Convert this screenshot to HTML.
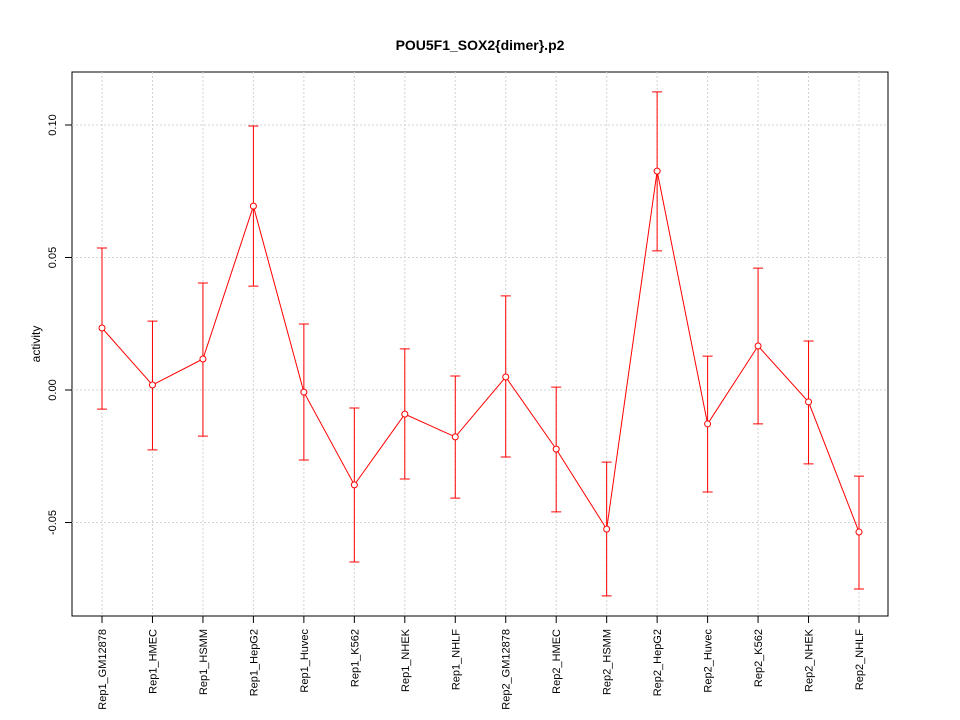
<!DOCTYPE html>
<html><head><meta charset="utf-8"><style>
html,body{margin:0;padding:0;background:#fff;}
svg{display:block;font-family:"Liberation Sans",sans-serif;}
</style></head><body>
<svg id="chart" width="960" height="720" viewBox="0 0 960 720" xmlns="http://www.w3.org/2000/svg">
<text x="480" y="50" text-anchor="middle" font-size="14" font-weight="bold">POU5F1_SOX2{dimer}.p2</text>
<text transform="translate(40,344) rotate(-90)" text-anchor="middle" font-size="12">activity</text>
<rect x="72" y="72" width="816" height="544" fill="none" stroke="#000"/>
<g id="grid"></g><g id="axes"></g><g id="series"></g>
</svg>
<script>
const categories=["Rep1_GM12878","Rep1_HMEC","Rep1_HSMM","Rep1_HepG2","Rep1_Huvec","Rep1_K562","Rep1_NHEK","Rep1_NHLF","Rep2_GM12878","Rep2_HMEC","Rep2_HSMM","Rep2_HepG2","Rep2_Huvec","Rep2_K562","Rep2_NHEK","Rep2_NHLF"];
const values=[0.0234,0.0019,0.0117,0.0694,-0.0008,-0.0358,-0.0091,-0.0177,0.0049,-0.0223,-0.0525,0.0826,-0.0128,0.0166,-0.0045,-0.0536];
const upper=[0.0536,0.026,0.0404,0.0996,0.0249,-0.0068,0.0155,0.0053,0.0355,0.0011,-0.0272,0.1125,0.0128,0.046,0.0185,-0.0325];
const lower=[-0.0072,-0.0226,-0.0174,0.0392,-0.0264,-0.0649,-0.0336,-0.0408,-0.0253,-0.046,-0.0777,0.0525,-0.0385,-0.0128,-0.0279,-0.0751];
const yTicks=[-0.05,0.00,0.05,0.10];
const yTickLabels=["-0.05","0.00","0.05","0.10"];

const NS="http://www.w3.org/2000/svg";
function xs(i){return 102+i*(859-102)/(categories.length-1);}
function ys(v){return 390-v*2650;}
function mk(tag,attrs,parent){const e=document.createElementNS(NS,tag);for(const k in attrs)e.setAttribute(k,attrs[k]);parent.appendChild(e);return e;}
const grid=document.getElementById('grid'),axes=document.getElementById('axes'),series=document.getElementById('series');

categories.forEach((c,i)=>{
  const x=xs(i);
  const g=mk('line',{x1:x,x2:x,y1:72,y2:616,stroke:'#d3d3d3','stroke-dasharray':'2,2'},grid);
  
  
  const t=mk('line',{x1:x,x2:x,y1:616,y2:623,stroke:'#000'},axes);
  
  
  const l=mk('text',{transform:`translate(${x+4},629) rotate(-90)`,'text-anchor':'end','font-size':'11'},axes);
  l.textContent=c;
  
  
});
yTicks.forEach((v,i)=>{
  const y=ys(v);
  const g=mk('line',{x1:72,x2:888,y1:y,y2:y,stroke:'#d3d3d3','stroke-dasharray':'2,2'},grid);
  
  
  const t=mk('line',{x1:65,x2:72,y1:y,y2:y,stroke:'#000'},axes);
  
  
  const l=mk('text',{transform:`translate(56,${y}) rotate(-90)`,'text-anchor':'middle','font-size':'11'},axes);
  l.textContent=yTickLabels[i];
  
  
});
const pts=values.map((v,i)=>xs(i)+','+ys(v)).join(' ');
const pl=mk('polyline',{points:pts,fill:'none',stroke:'#ff0000'},series);


values.forEach((v,i)=>{
  const x=xs(i);
  const e=mk('path',{d:`M${x},${ys(upper[i])}V${ys(lower[i])}M${x-5},${ys(upper[i])}H${x+5}M${x-5},${ys(lower[i])}H${x+5}`,fill:'none',stroke:'#ff0000'},series);
  
  
  const c=mk('circle',{cx:x,cy:ys(v),r:3,fill:'#fff',stroke:'#ff0000'},series);
  
  
});
</script>
</body></html>
